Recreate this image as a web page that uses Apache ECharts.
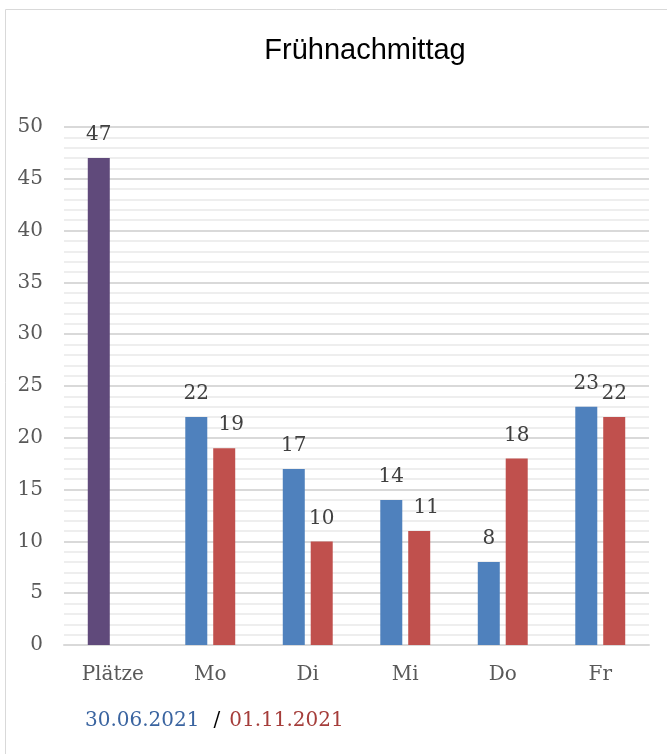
<!DOCTYPE html>
<html>
<head>
<meta charset="utf-8">
<script src="https://cdn.jsdelivr.net/npm/echarts@6/dist/echarts.min.js"></script>
<style>html,body{margin:0;padding:0;background:#fff}#c{width:667px;height:754px}</style>
</head>
<body>
<div id="c"></div>
<script>
const categories = ['Plätze', 'Mo', 'Di', 'Mi', 'Do', 'Fr'];
const series2021_06 = [47, 22, 17, 14, 8, 23];
const series2021_11 = [null, 19, 10, 11, 18, 22];
const yTicks = [0, 5, 10, 15, 20, 25, 30, 35, 40, 45, 50];

const serif = 'DejaVu Serif';
const blue = '#4f81bd', red = '#c0504d', purple = '#604a7b';

const chart = echarts.init(document.getElementById('c'));
const labelBase = { show: true, position: 'top', distance: 13, fontFamily: serif, fontSize: 20, color: '#404040' };
const d1 = series2021_06.map((v, i) => i === 0 ? { value: v, itemStyle: { color: purple } } : { value: v });
const d2 = series2021_11.map((v, i) => (i === 1 || i === 3) ? { value: v, label: { offset: [7, 0] } } : { value: v });

chart.setOption({
  animation: false,
  graphic: [{
    type: 'rect', shape: { x: 5.5, y: 9.5, width: 900, height: 900 },
    style: { fill: 'none', stroke: '#d9d9d9', lineWidth: 1 }, silent: true
  }],
  title: [{
    text: 'Frühnachmittag', left: 360, textAlign: 'center', top: 31,
    textStyle: { fontFamily: 'Liberation Sans', fontSize: 29, fontWeight: 'normal', color: '#000' }
  }, {
    text: '{b|30.06.2021}{s|/}{r|01.11.2021}', left: 80, top: 706,
    textStyle: { fontWeight: 'normal', rich: {
      b: { fontFamily: serif, fontSize: 20, fontWeight: 'normal', color: '#3a64a0' },
      s: { fontFamily: serif, fontSize: 20, fontWeight: 'normal', color: '#000', padding: [0, 9, 0, 14] },
      r: { fontFamily: serif, fontSize: 20, fontWeight: 'normal', color: '#a53d3a' }
    } }
  }],
  grid: { left: 64, right: 18, top: 127, bottom: 109 },
  xAxis: {
    type: 'category', data: categories,
    axisLine: { show: true, lineStyle: { color: '#d9d9d9', width: 2 } },
    axisTick: { show: false },
    axisLabel: { fontFamily: serif, fontSize: 20, color: '#595959', margin: 20 }
  },
  yAxis: {
    type: 'value', min: 0, max: 50, interval: 5,
    axisLine: { show: false }, axisTick: { show: false },
    axisLabel: { fontFamily: serif, fontSize: 20, color: '#595959', margin: 21,
      formatter: v => yTicks.includes(v) ? String(v) : '' },
    splitLine: { lineStyle: { color: '#d9d9d9', width: 2 } },
    minorTick: { show: false, splitNumber: 5 },
    minorSplitLine: { show: true, lineStyle: { color: '#eeeeee', width: 2 } }
  },
  series: [{
    type: 'bar', name: '30.06.2021', data: d1, barWidth: 22, barGap: '27%',
    itemStyle: { color: blue }, label: labelBase
  }, {
    type: 'bar', name: '01.11.2021', data: d2, barWidth: 22, barGap: '27%',
    itemStyle: { color: red }, label: labelBase
  }]
});
</script>
</body>
</html>
